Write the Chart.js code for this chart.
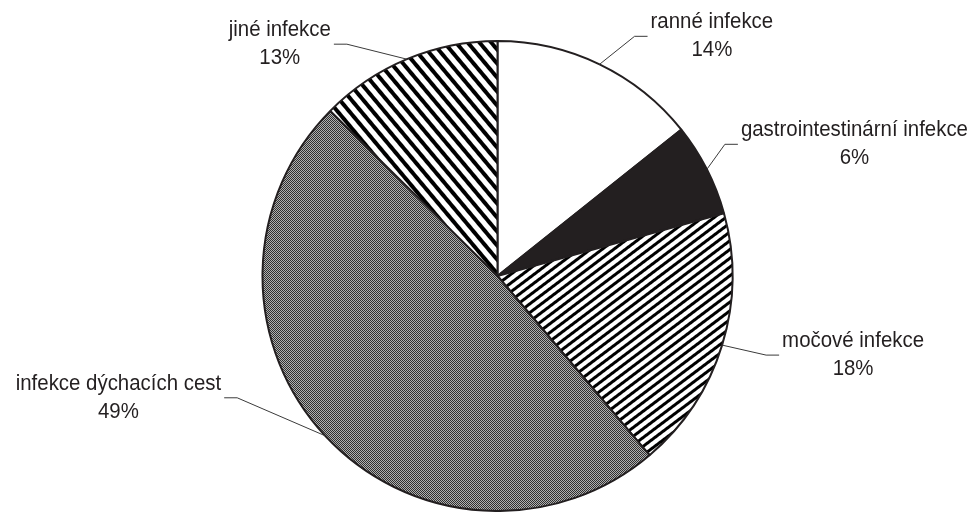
<!DOCTYPE html>
<html>
<head>
<meta charset="utf-8">
<script src="https://cdn.jsdelivr.net/npm/chart.js@4.4.0/dist/chart.umd.min.js"></script>
<style>
	body { margin: 0; background: #fff; }
	canvas { display: block; }
</style>
</head>
<body>
<canvas id="kolac" width="973" height="512"></canvas>
<script>
// kategorie a podíly
const kategorie = ["ranné infekce", "gastrointestinární infekce", "močové infekce", "infekce dýchacích cest", "jiné infekce"];
const podily = [14.3, 6.4, 18.1, 48.6, 12.6];
const popisky = ["14%", "6%", "18%", "49%", "13%"];

// rozmístění popisků: zlom vodicí čáry vůči bodu na obvodu
const zlom = [[35, -28], [18, -25], [44, 10], [-88, -38], [-60, -15]];
const vodorovne = 13;

const barvaCar = '#231f20';

function pruhy(uhel, perioda, tloustka) {
	const c = document.createElement('canvas');
	c.width = perioda; c.height = perioda;
	const g = c.getContext('2d');
	g.fillStyle = '#fff';
	g.fillRect(0, 0, perioda, perioda);
	g.fillStyle = '#000';
	g.fillRect(0, 0, perioda, tloustka);
	const p = g.createPattern(c, 'repeat');
	p.setTransform(new DOMMatrix().rotate(uhel));
	return p;
}

function sachovnice() {
	const c = document.createElement('canvas');
	c.width = 2; c.height = 2;
	const g = c.getContext('2d');
	g.fillStyle = '#b0b0b0';
	g.fillRect(0, 0, 2, 2);
	g.fillStyle = '#303030';
	g.fillRect(0, 0, 1, 1);
	g.fillRect(1, 1, 1, 1);
	return g.createPattern(c, 'repeat');
}

const vyplne = [
	'#ffffff',
	barvaCar,
	pruhy(-37, 7, 3),
	sachovnice(),
	pruhy(50, 9, 4)
];

const popiskyPlugin = {
	id: 'popisky',
	afterDraw(chart) {
		const ctx = chart.ctx;
		const meta = chart.getDatasetMeta(0);
		const sx = 0.95;
		ctx.save();
		ctx.font = '21.5px "Liberation Sans", Arial, sans-serif';
		ctx.fillStyle = barvaCar;
		ctx.strokeStyle = '#3a3a3a';
		ctx.lineWidth = 1;
		meta.data.forEach((arc, i) => {
			const {x, y, startAngle, endAngle, outerRadius} = arc.getProps(['x', 'y', 'startAngle', 'endAngle', 'outerRadius'], true);
			const stred = (startAngle + endAngle) / 2;
			const ax = x + Math.cos(stred) * outerRadius;
			const ay = y + Math.sin(stred) * outerRadius;
			const ex = ax + zlom[i][0];
			const ey = ay + zlom[i][1];
			const smer = zlom[i][0] > 0 ? 1 : -1;
			const kx = ex + smer * vodorovne;
			ctx.beginPath();
			ctx.moveTo(ax, ay);
			ctx.lineTo(ex, ey);
			ctx.lineTo(kx, ey);
			ctx.stroke();

			const sirka = sx * Math.max(ctx.measureText(kategorie[i]).width, ctx.measureText(popisky[i]).width);
			const tx = smer > 0 ? kx + 3 + sirka / 2 : kx - 3 - sirka / 2;
			ctx.save();
			ctx.translate(tx, ey);
			ctx.scale(sx, 1);
			ctx.textAlign = 'center';
			ctx.textBaseline = 'middle';
			ctx.fillText(kategorie[i], 0, -14);
			ctx.fillText(popisky[i], 0, 14);
			ctx.restore();
		});
		ctx.restore();
	}
};

const kolac = new Chart(document.getElementById("kolac"), {
	type: 'pie',
	data: {
		labels: kategorie,
		datasets: [{
			data: podily,
			backgroundColor: vyplne,
			borderColor: barvaCar,
			borderWidth: 2
		}]
	},
	options: {
		responsive: false,
		animation: false,
		layout: {
			padding: { top: 40, bottom: 0, left: 150, right: 128 }
		},
		plugins: {
			legend: { display: false },
			tooltip: { enabled: false }
		}
	},
	plugins: [popiskyPlugin]
});
</script>
</body>
</html>
